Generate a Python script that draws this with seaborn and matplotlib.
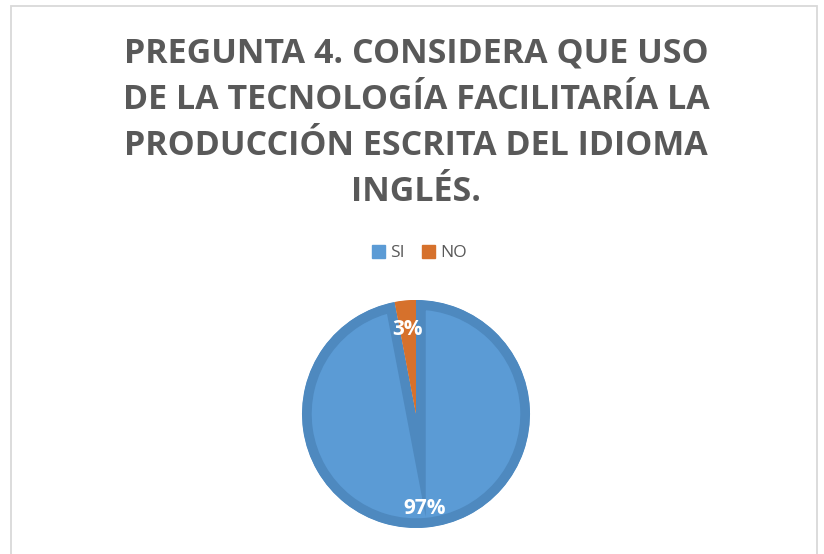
import matplotlib
matplotlib.use("Agg")
import matplotlib.pyplot as plt
from matplotlib.patches import Patch, Rectangle
import seaborn as sns

# datos del grafico
labels = ["SI", "NO"]
values = [97, 3]
colors = ["#5B9BD5", "#D6712C"]
edge_colors = ["#4E89BF", "#D6712C"]

title = ("PREGUNTA 4. CONSIDERA QUE USO\n"
         "DE LA TECNOLOGÍA FACILITARÍA LA\n"
         "PRODUCCIÓN ESCRITA DEL IDIOMA\n"
         "INGLÉS.")

sns.set_theme(style="white")
plt.rcParams["font.family"] = ["Open Sans", "DejaVu Sans"]

W, H = 824, 554
fig = plt.figure(figsize=(W / 100, H / 100), dpi=100)

# marco gris del grafico
fig.add_artist(Rectangle((11 / W, -0.1), (817 - 11) / W, 548 / H + 0.1,
                         transform=fig.transFigure, fill=False,
                         edgecolor="#D9D9D9", linewidth=1.3))

# titulo
fig.text(0.505, 1 - 37 / H, title, ha="center", va="top", fontsize=24.5,
         fontweight="bold", color="#595959", linespacing=1.46)

# leyenda
handles = [Patch(facecolor=c, edgecolor=c) for c in colors]
fig.legend(handles, labels, loc="center", bbox_to_anchor=(0.509, 1 - 253 / H),
           ncol=2, frameon=False, fontsize=12.5, handlelength=0.75,
           handleheight=0.75, handletextpad=0.3, columnspacing=1.0,
           labelcolor="#595959")

# pastel
cx, cy, r = 416, 414, 125
ax = fig.add_axes([(cx - r) / W, (H - cy - r) / H, 2 * r / W, 2 * r / H])
wedges, texts, autotexts = ax.pie(
    values, colors=colors, startangle=90, counterclock=False, radius=0.912,
    autopct="%1.0f%%", pctdistance=0.83,
    textprops=dict(color="white", fontsize=15, fontweight="bold"))
ax.set_xlim(-1, 1)
ax.set_ylim(-1, 1)
ax.set_aspect("equal")
ax.axis("off")

# la etiqueta del 3% va algo mas cerca del centro
px, py = autotexts[1].get_position()
autotexts[1].set_position((px * 0.9, py * 0.9))

# borde interior mas oscuro (efecto bisel), recortado a cada porcion
for w, ec in zip(wedges, edge_colors):
    w.set_edgecolor(ec)
    w.set_linewidth(14)
    w.set_clip_on(True)
    w.set_clip_path(w.get_path(), w.get_transform())

fig.savefig("out.png", dpi=100)
